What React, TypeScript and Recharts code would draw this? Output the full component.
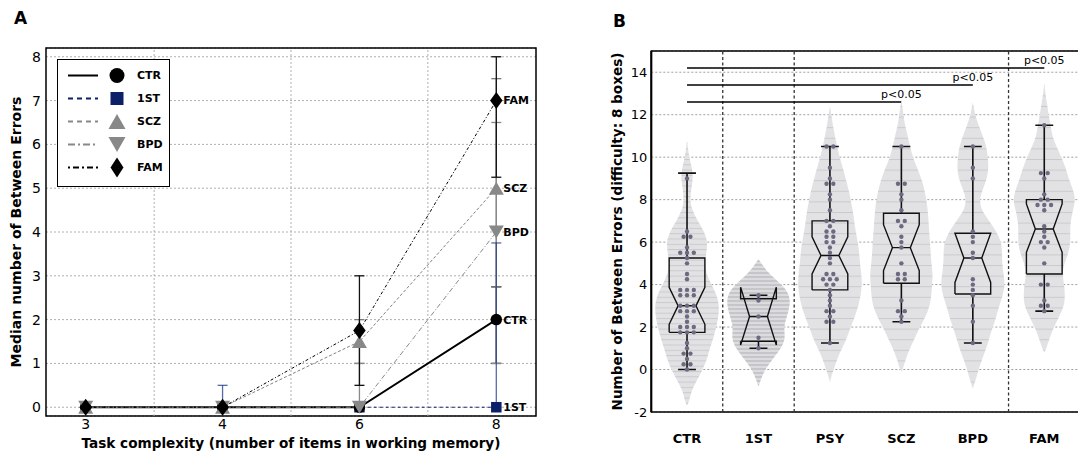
import React from "react";
import {
  ComposedChart,
  Line,
  Scatter,
  XAxis,
  YAxis,
  CartesianGrid,
  ErrorBar,
  ReferenceLine,
  ReferenceArea,
  ReferenceDot,
  Legend,
} from "recharts";

const FONT = '"DejaVu Sans", Verdana, sans-serif';
const NAVY = "#0c2068";

// ---------- panel A: median between-errors per task complexity ----------
const complexity = [3, 4, 6, 8];
const ctrMedian = [0, 0, 0, 2];
const firstMedian = [0, 0, 0, 0];
const sczMedian = [0, 0, 1.5, 5];
const bpdMedian = [0, 0, 0, 4];
const famMedian = [0, 0, 1.75, 7];

// spread of each group as [low, high]; null where no bar is drawn
const ctrSpread = [null, null, null, [1, 2.75]];
const firstSpread = [null, [0, 0.5], null, [0, 3.75]];
const sczSpread = [null, null, [1, 2], [2.75, 7.5]];
const bpdSpread = [null, null, [0, 1], [1, 6.5]];
const famSpread = [null, null, [0.5, 3], [5.25, 8]];

// ---------- panel B: distribution of errors at difficulty 8 ----------
const groups = ["CTR", "1ST", "PSY", "SCZ", "BPD", "FAM"];

const ctrScores = [
  0, 0.25, 0.25, 0.5, 0.75, 0.75, 1, 1.25, 1.75, 1.75, 1.75, 2, 2, 2, 2.25, 2.5,
  2.75, 2.75, 2.75, 3, 3, 3, 3.5, 3.5, 3.5, 3.75, 3.75, 3.75, 4.25, 4.5, 5, 5.25,
  5.5, 5.5, 5.5, 5.75, 6.25, 6.25, 6.5, 9,
];
const firstScores = [1, 1.5, 2.5, 3.25, 3.5];
const psyScores = [
  1.25, 2.25, 2.25, 2.5, 2.75, 2.75, 3, 3.25, 3.5, 3.75, 4, 4, 4.25, 4.25, 4.25,
  4.5, 4.5, 5, 5.25, 5.5, 5.75, 6, 6, 6.25, 6.25, 6.5, 6.5, 6.75, 7, 7, 7.5, 8,
  8.25, 8.75, 8.75, 9, 9.5, 10.5, 10.5,
];
const sczScores = [
  2.25, 2.5, 2.75, 2.75, 3.25, 4.25, 4.25, 4.5, 4.5, 5, 5.75, 6, 6.25, 6.75, 7, 7,
  7.5, 8, 8.25, 8.75, 8.75, 10.5,
];
const bpdScores = [1.25, 2.25, 3, 3.5, 3.75, 4, 4.25, 5.25, 5.5, 6, 6.25, 6.5, 9, 9.5, 10.5];
const famScores = [
  2.75, 3, 3, 3.25, 4, 4, 5, 5.75, 6, 6, 6.25, 6.5, 6.75, 7.5, 7.75, 7.75, 7.75, 8,
  8, 8.25, 9, 9.25, 9.25, 11.5,
];

// box statistics (notched boxes)
const boxMin = [0, 1.0, 1.25, 2.25, 1.25, 2.75];
const boxQ1 = [1.75, 1.33, 3.75, 4.06, 3.56, 4.5];
const notchLow = [2.13, 1.15, 4.5, 4.66, 4.1, 5.52];
const boxMedian = [3.0, 2.5, 5.37, 5.74, 5.25, 6.62];
const notchHigh = [3.87, 3.88, 6.25, 6.82, 6.42, 7.8];
const boxQ3 = [5.25, 3.33, 7.0, 7.36, 6.42, 8.0];
const boxMax = [9.25, 3.5, 10.5, 10.5, 10.5, 11.5];

// violin half-widths (category units) at each level
const ctrLevels = [-1.7, -1.5, -1, -0.5, 0, 0.5, 1, 1.5, 2, 2.5, 3, 3.5, 4, 4.5, 5, 5.5, 6, 6.5, 7, 7.5, 8, 8.5, 9, 9.5, 10, 10.5, 10.8];
const ctrWidths = [0, 0.03, 0.06, 0.14, 0.22, 0.28, 0.32, 0.37, 0.41, 0.44, 0.45, 0.42, 0.34, 0.27, 0.25, 0.27, 0.29, 0.24, 0.15, 0.07, 0.04, 0.06, 0.085, 0.07, 0.03, 0.01, 0];
const firstLevels = [-0.8, -0.5, 0, 0.5, 1, 1.5, 2, 2.5, 3, 3.5, 4, 4.5, 5, 5.2];
const firstWidths = [0, 0.03, 0.09, 0.2, 0.32, 0.38, 0.35, 0.4, 0.44, 0.44, 0.33, 0.15, 0.04, 0];
const psyLevels = [-0.6, -0.3, 0, 0.5, 1, 1.5, 2, 2.5, 3, 3.5, 4, 4.5, 5, 5.5, 6, 6.5, 7, 7.5, 8, 8.5, 9, 9.5, 10, 10.5, 11, 11.5, 12, 12.4];
const psyWidths = [0, 0.02, 0.055, 0.1, 0.17, 0.24, 0.29, 0.35, 0.4, 0.43, 0.45, 0.44, 0.42, 0.41, 0.39, 0.36, 0.34, 0.32, 0.29, 0.26, 0.22, 0.18, 0.135, 0.1, 0.07, 0.04, 0.02, 0];
const sczLevels = [-0.1, 0, 0.5, 1, 1.5, 2, 2.5, 3, 3.5, 4, 4.5, 5, 5.5, 6, 6.5, 7, 7.5, 8, 8.5, 9, 9.5, 10, 10.5, 11, 11.5, 12, 12.7];
const sczWidths = [0, 0.02, 0.06, 0.12, 0.19, 0.26, 0.34, 0.4, 0.42, 0.43, 0.44, 0.42, 0.41, 0.4, 0.39, 0.38, 0.37, 0.35, 0.32, 0.28, 0.22, 0.16, 0.12, 0.09, 0.05, 0.03, 0];
const bpdLevels = [-0.9, -0.5, 0, 0.5, 1, 1.5, 2, 2.5, 3, 3.5, 4, 4.5, 5, 5.5, 6, 6.5, 7, 7.5, 8, 8.5, 9, 9.5, 10, 10.5, 11, 11.5, 12, 12.6];
const bpdWidths = [0, 0.04, 0.08, 0.13, 0.19, 0.23, 0.28, 0.33, 0.37, 0.42, 0.45, 0.43, 0.41, 0.41, 0.4, 0.33, 0.23, 0.12, 0.09, 0.14, 0.2, 0.22, 0.21, 0.19, 0.14, 0.08, 0.03, 0];
const famLevels = [0.8, 1, 1.5, 2, 2.5, 3, 3.5, 4, 4.5, 5, 5.5, 6, 6.5, 7, 7.5, 8, 8.5, 9, 9.5, 10, 10.5, 11, 11.5, 12, 12.5, 13, 13.5];
const famWidths = [0, 0.03, 0.075, 0.135, 0.21, 0.28, 0.29, 0.28, 0.25, 0.28, 0.34, 0.37, 0.36, 0.37, 0.4, 0.44, 0.4, 0.34, 0.3, 0.24, 0.17, 0.11, 0.09, 0.06, 0.04, 0.015, 0];

// significance brackets from CTR to these groups
const sigTarget = [3, 4, 5];
const sigHeight = [12.6, 13.4, 14.2];
const sigText = "p<0.05";
const groupDividers = [0.5, 1.5, 4.5];

// ---------- series setup ----------
type Kind = "circle" | "square" | "triUp" | "triDown" | "diamond";

const trendSeries = [
  { key: "ctr", name: "CTR", values: ctrMedian, spread: ctrSpread, color: "#000", width: 1.8, dash: undefined, legendDash: undefined, marker: "circle" as Kind, fill: "#000", errColor: "#000", errOpacity: 1 },
  { key: "first", name: "1ST", values: firstMedian, spread: firstSpread, color: NAVY, width: 1, dash: "3 3", legendDash: "5 4", marker: "square" as Kind, fill: NAVY, errColor: "#1d3a8a", errOpacity: 0.75 },
  { key: "scz", name: "SCZ", values: sczMedian, spread: sczSpread, color: "#808080", width: 1, dash: "3 2", legendDash: "5 4", marker: "triUp" as Kind, fill: "#888", errColor: "#7a7a7a", errOpacity: 1 },
  { key: "bpd", name: "BPD", values: bpdMedian, spread: bpdSpread, color: "#888", width: 1, dash: "5 2 1 2", legendDash: "7 3 2 3", marker: "triDown" as Kind, fill: "#888", errColor: "#8a8a8a", errOpacity: 1 },
  { key: "fam", name: "FAM", values: famMedian, spread: famSpread, color: "#000", width: 1, dash: "3 2 1 2", legendDash: "2 3 6 3", marker: "diamond" as Kind, fill: "#000", errColor: "#111", errOpacity: 1 },
];
const byKey = (k: string) => trendSeries.find((s) => s.key === k)!;
const errorOrder = ["ctr", "scz", "bpd", "fam", "first"].map(byKey);
const lineOrder = ["first", "ctr", "bpd", "scz", "fam"].map(byKey);
const lastIdx = complexity.length - 1;

const toErr = (v: number, r: number[] | null) => (r ? [v - r[0], r[1] - v] : undefined);
const trendRows = complexity.map((_, i) => {
  const row: Record<string, any> = { x: i };
  trendSeries.forEach((s) => {
    row[s.key] = s.values[i];
    row[s.key + "Err"] = toErr(s.values[i], s.spread[i]);
  });
  return row;
});

const A_X: [number, number] = [-0.29, 3.29];
const A_Y: [number, number] = [-0.2, 8.2];
const B_X: [number, number] = [-0.5, 5.5];
const B_Y: [number, number] = [-2, 15];

// ---------- markers ----------
const SIZES = {
  plot: { circle: 11.5, square: 10.5, triW: 15, triH: 13, diaW: 12.5, diaH: 17 },
  legend: { circle: 15, square: 13, triW: 17, triH: 15, diaW: 13, diaH: 20 },
};

function Marker({ kind, cx, cy, fill, scale }: { kind: Kind; cx: number; cy: number; fill: string; scale: "plot" | "legend" }) {
  const s = SIZES[scale];
  if (kind === "circle") return <circle cx={cx} cy={cy} r={s.circle / 2} fill={fill} />;
  if (kind === "square")
    return <rect x={cx - s.square / 2} y={cy - s.square / 2} width={s.square} height={s.square} fill={fill} />;
  if (kind === "triUp")
    return (
      <polygon
        points={`${cx},${cy - s.triH / 2} ${cx + s.triW / 2},${cy + s.triH / 2} ${cx - s.triW / 2},${cy + s.triH / 2}`}
        fill={fill}
      />
    );
  if (kind === "triDown")
    return (
      <polygon
        points={`${cx},${cy + s.triH / 2} ${cx + s.triW / 2},${cy - s.triH / 2} ${cx - s.triW / 2},${cy - s.triH / 2}`}
        fill={fill}
      />
    );
  return (
    <polygon
      points={`${cx},${cy - s.diaH / 2} ${cx + s.diaW / 2},${cy} ${cx},${cy + s.diaH / 2} ${cx - s.diaW / 2},${cy}`}
      fill={fill}
    />
  );
}

function TrendLegend() {
  const order = ["ctr", "first", "scz", "bpd", "fam"].map(byKey);
  return (
    <div style={{ width: 113, height: 128, boxSizing: "border-box", border: "1.4px solid #000", background: "#fff" }}>
      <svg width={110} height={125} style={{ display: "block" }}>
        {order.map((s, k) => {
          const y = 15.5 + k * 23;
          return (
            <g key={s.key}>
              <line x1={10} x2={40} y1={y} y2={y} stroke={s.key === "scz" || s.key === "bpd" ? "#888" : s.color} strokeWidth={2} strokeDasharray={s.legendDash} />
              <Marker kind={s.marker} cx={59} cy={y} fill={s.fill} scale="legend" />
              <text x={79} y={y} dy="0.36em" fontSize={11} fontWeight={700} fontFamily={FONT} fill="#000">
                {s.name}
              </text>
            </g>
          );
        })}
      </svg>
    </div>
  );
}

function TrendPanel() {
  const tick = { fill: "#000", fontSize: 14, fontFamily: FONT };
  const grid = { stroke: "#b0b0b0", strokeDasharray: "2 2" };
  return (
    <ComposedChart width={545} height={454} data={trendRows} margin={{ top: 48, right: 9, bottom: 0, left: 0 }}>
      <text x={14} y={24} fontSize={17} fontWeight={700} fontFamily={FONT}>
        A
      </text>
      <CartesianGrid vertical={false} {...grid} />
      {[0.5, 1.5, 2.5].map((v) => (
        <ReferenceLine key={v} x={v} {...grid} />
      ))}
      <XAxis
        type="number"
        dataKey="x"
        domain={A_X}
        allowDataOverflow
        ticks={complexity.map((_, i) => i)}
        tickFormatter={(i: number) => String(complexity[i])}
        height={38}
        tickSize={2}
        tickMargin={1}
        tickLine={false}
        axisLine={false}
        tick={tick}
        label={{
          value: "Task complexity (number of items in working memory)",
          position: "insideBottom",
          offset: 6,
          fill: "#000",
          fontSize: 13.6,
          fontWeight: 700,
          fontFamily: FONT,
        }}
      />
      <XAxis xAxisId="top" type="number" orientation="top" mirror domain={A_X} allowDataOverflow ticks={[0.5, 1.5, 2.5]} height={0} tick={false} tickSize={5} axisLine={false} tickLine={{ stroke: "#000" }} />
      <YAxis
        type="number"
        domain={A_Y}
        allowDataOverflow
        ticks={[0, 1, 2, 3, 4, 5, 6, 7, 8]}
        width={46}
        tickSize={3}
        tickMargin={2}
        tickLine={false}
        axisLine={false}
        tick={tick}
        label={{
          value: "Median number of Between Errors",
          angle: -90,
          position: "insideLeft",
          offset: 16,
          style: { textAnchor: "middle", fontWeight: 700, fontSize: 14, fill: "#000", fontFamily: FONT },
        }}
      />
      <YAxis yAxisId="right" type="number" orientation="right" mirror domain={A_Y} allowDataOverflow ticks={[0, 1, 2, 3, 4, 5, 6, 7, 8]} width={0} tick={false} tickSize={5} axisLine={false} tickLine={{ stroke: "#000" }} />

      {errorOrder.map((s) => (
        <Line key={s.key + "-err"} dataKey={s.key} stroke="none" dot={false} activeDot={false} legendType="none" isAnimationActive={false}>
          <ErrorBar dataKey={s.key + "Err"} direction="y" width={5} stroke={s.errColor} strokeOpacity={s.errOpacity} strokeWidth={1.3} />
        </Line>
      ))}
      {lineOrder.map((s) => (
        <Line
          key={s.key}
          dataKey={s.key}
          stroke={s.color}
          strokeWidth={s.width}
          strokeDasharray={s.dash}
          dot={(p: any) => <Marker key={s.key + p.index} kind={s.marker} cx={p.cx} cy={p.cy} fill={s.fill} scale="plot" />}
          activeDot={false}
          isAnimationActive={false}
        />
      ))}
      {trendSeries.map((s) => (
        <ReferenceDot
          key={s.key + "-tag"}
          x={lastIdx}
          y={s.values[lastIdx]}
          r={0}
          fill="none"
          stroke="none"
          label={{ value: s.name, position: "right", offset: 7, fontSize: 11, fontWeight: 700, fill: "#000", fontFamily: FONT }}
        />
      ))}
      <ReferenceArea x1={A_X[0]} x2={A_X[1]} y1={A_Y[0]} y2={A_Y[1]} fill="none" stroke="#000" strokeWidth={1.5} />
      <Legend layout="vertical" align="center" verticalAlign="middle" wrapperStyle={{ left: 57, top: 59, width: 113, height: 128 }} content={() => <TrendLegend />} />
    </ComposedChart>
  );
}

// ---------- panel B helpers ----------
const BOX_HALF = 0.25;
const NOTCH_HALF = 0.125;
const CAP_HALF = 0.125;
const DOT_STEP = 0.095;

const violinOutline = (c: number, levels: number[], widths: number[]) => [
  ...levels.map((y, k) => ({ x: c + widths[k], y })),
  ...levels
    .map((y, k) => ({ x: c - widths[k], y }))
    .reverse(),
];

const violinFills = ["url(#stripeFine)", "url(#stripeDense)", "url(#stripeWide)", "url(#stripeWide)", "url(#stripeWide)", "url(#stripeWide)"];
const violins = [
  [ctrLevels, ctrWidths],
  [firstLevels, firstWidths],
  [psyLevels, psyWidths],
  [sczLevels, sczWidths],
  [bpdLevels, bpdWidths],
  [famLevels, famWidths],
].map(([levels, widths], i) => violinOutline(i, levels, widths));

const boxOutline = (i: number) => {
  const w = BOX_HALF;
  const n = NOTCH_HALF;
  return [
    { x: i - w, y: boxQ1[i] },
    { x: i + w, y: boxQ1[i] },
    { x: i + w, y: notchLow[i] },
    { x: i + n, y: boxMedian[i] },
    { x: i + w, y: notchHigh[i] },
    { x: i + w, y: boxQ3[i] },
    { x: i - w, y: boxQ3[i] },
    { x: i - w, y: notchHigh[i] },
    { x: i - n, y: boxMedian[i] },
    { x: i + n, y: boxMedian[i] },
    { x: i - n, y: boxMedian[i] },
    { x: i - w, y: notchLow[i] },
    { x: i - w, y: boxQ1[i] },
  ];
};

const whisker = (i: number, from: number, to: number) => [
  { x: i - CAP_HALF, y: to },
  { x: i + CAP_HALF, y: to },
  { x: i, y: to },
  { x: i, y: from },
];

// spread tied scores sideways so every subject stays visible
const swarm = (i: number, scores: number[]) => {
  const counts = new Map<number, number>();
  scores.forEach((v) => counts.set(v, (counts.get(v) || 0) + 1));
  const pts: { x: number; y: number }[] = [];
  counts.forEach((n, v) => {
    for (let k = 0; k < n; k++) pts.push({ x: i + (k - (n - 1) / 2) * DOT_STEP, y: v });
  });
  return pts;
};
const subjectDots = [ctrScores, firstScores, psyScores, sczScores, bpdScores, famScores].flatMap((s, i) => swarm(i, s));

const noMarker = () => <g />;
const edge = { stroke: "#111", strokeWidth: 1.4, fill: "none" };

function Stripes({ id, h, band, base, line }: { id: string; h: number; band: number; base: string; line: string }) {
  return (
    <pattern id={id} patternUnits="userSpaceOnUse" width={10} height={h}>
      <rect width={10} height={h} fill={base} />
      <rect width={10} height={band} fill={line} />
    </pattern>
  );
}

function ViolinPanel() {
  const yTicks = [-2, 0, 2, 4, 6, 8, 10, 12, 14];
  return (
    <ComposedChart width={482} height={454} margin={{ top: 51, right: 2, bottom: 0, left: 0 }}>
      <defs>
        <Stripes id="stripeFine" h={5.3} band={1} base="#e2e2e4" line="#cbcbcf" />
        <Stripes id="stripeDense" h={4} band={2} base="#dcdcdf" line="#c5c5ca" />
        <Stripes id="stripeWide" h={10.6} band={1} base="#e2e2e4" line="#cbcbcf" />
      </defs>
      <text x={13} y={27} fontSize={17} fontWeight={700} fontFamily={FONT}>
        B
      </text>
      <CartesianGrid vertical={false} stroke="#a0a0a0" strokeDasharray="2 2" />
      <XAxis
        type="number"
        dataKey="x"
        domain={B_X}
        allowDataOverflow
        ticks={groups.map((_, i) => i)}
        tickFormatter={(i: number) => groups[i]}
        height={42}
        tickSize={2}
        tickMargin={20}
        tickLine={false}
        axisLine={false}
        tick={{ fill: "#000", fontSize: 13, fontWeight: 700, fontFamily: FONT }}
      />
      <YAxis
        type="number"
        dataKey="y"
        domain={B_Y}
        allowDataOverflow
        ticks={yTicks}
        width={51.3}
        tickSize={2}
        tickMargin={2}
        tickLine={false}
        axisLine={{ stroke: "#000", strokeWidth: 2 }}
        tick={{ fill: "#000", fontSize: 13, fontFamily: FONT }}
        label={{
          value: "Number of Between Errors (difficulty: 8 boxes)",
          angle: -90,
          position: "insideLeft",
          offset: 17,
          style: { textAnchor: "middle", fontWeight: 700, fontSize: 13.6, fill: "#000", fontFamily: FONT },
        }}
      />
      <YAxis yAxisId="right" type="number" orientation="right" mirror domain={B_Y} allowDataOverflow ticks={yTicks} width={0} tick={false} tickSize={5} axisLine={false} tickLine={{ stroke: "#000" }} />

      {violins.map((pts, i) => (
        <Scatter
          key={"violin" + i}
          data={pts}
          shape={noMarker}
          line={{ fill: violinFills[i], stroke: "none" }}
          lineJointType="basis"
          legendType="none"
          isAnimationActive={false}
        />
      ))}
      {groupDividers.map((v) => (
        <ReferenceLine key={"div" + v} x={v} stroke="#333" strokeWidth={1.3} strokeDasharray="3 2.5" />
      ))}
      {sigTarget.map((t, k) => (
        <ReferenceLine
          key={"sig" + t}
          segment={[
            { x: 0, y: sigHeight[k] },
            { x: t, y: sigHeight[k] },
          ]}
          stroke="#000"
          strokeWidth={1.4}
        />
      ))}
      {sigTarget.map((t, k) => (
        <ReferenceDot
          key={"sigtext" + t}
          x={t}
          y={sigHeight[k]}
          r={0}
          fill="none"
          stroke="none"
          label={{ value: sigText, position: "top", offset: 4, fontSize: 11, fill: "#000", fontFamily: FONT }}
        />
      ))}
      {groups.map((g, i) => (
        <Scatter key={"box" + g} data={boxOutline(i)} shape={noMarker} line={edge} lineJointType="linear" legendType="none" isAnimationActive={false} />
      ))}
      {groups.map((g, i) => (
        <Scatter key={"wu" + g} data={whisker(i, boxQ3[i], boxMax[i])} shape={noMarker} line={{ ...edge, strokeWidth: 1.6 }} lineJointType="linear" legendType="none" isAnimationActive={false} />
      ))}
      {groups.map((g, i) => (
        <Scatter key={"wl" + g} data={whisker(i, boxQ1[i], boxMin[i])} shape={noMarker} line={{ ...edge, strokeWidth: 1.6 }} lineJointType="linear" legendType="none" isAnimationActive={false} />
      ))}
      <Scatter
        data={subjectDots}
        shape={(p: any) => <circle cx={p.cx} cy={p.cy} r={2.2} fill="#6c6a80" />}
        legendType="none"
        isAnimationActive={false}
      />
      <ReferenceArea x1={B_X[0]} x2={B_X[1]} y1={B_Y[0]} y2={B_Y[1]} fill="none" stroke="#000" strokeWidth={1.5} />
    </ComposedChart>
  );
}

export default function App() {
  return (
    <div
      style={{
        position: "absolute",
        left: 0,
        top: 0,
        width: 1078,
        height: 454,
        overflow: "hidden",
        background: "#fff",
        fontFamily: FONT,
      }}
    >
      <div style={{ position: "absolute", left: 0, top: 0 }}>
        <TrendPanel />
      </div>
      <div style={{ position: "absolute", left: 600, top: 0 }}>
        <ViolinPanel />
      </div>
    </div>
  );
}
